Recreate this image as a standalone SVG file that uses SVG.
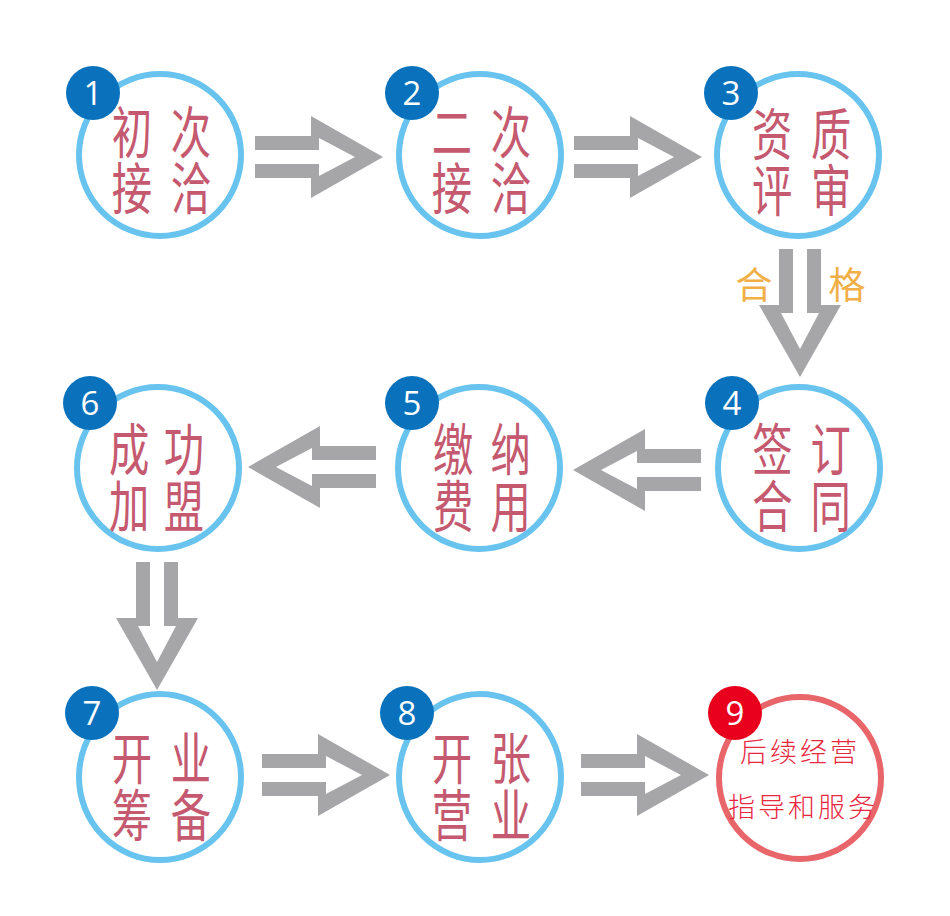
<svg xmlns="http://www.w3.org/2000/svg" width="950" height="916" viewBox="0 0 950 916">
<style>
.ring{fill:#fff;stroke:#68c3ee;stroke-width:6}
.ring9{fill:#fff;stroke:#e8656a;stroke-width:6}
.badge{fill:#0a72bd}
.badge9{fill:#e8001c}
.num{font-family:"Open Sans","Noto Sans","Liberation Sans",sans-serif;font-size:33px;fill:#fff;text-anchor:middle}
.t{font-family:"Noto Sans CJK SC","Noto Sans CJK TC",sans-serif;font-size:56px;fill:#c4596f;text-anchor:middle;dominant-baseline:central}
.t9{font-family:"Noto Sans CJK SC","Noto Sans CJK TC",sans-serif;font-size:27px;font-weight:300;fill:#e8283f;text-anchor:middle;dominant-baseline:central;letter-spacing:3px}
.lbl{font-family:"Noto Sans CJK SC","Noto Sans CJK TC",sans-serif;font-size:37px;fill:#f1af48;text-anchor:middle;dominant-baseline:central}
.arr{fill:#a6a6a8}
</style>
<defs>
<path id="arrow" d="M0,0 L-72,-41 L-72,-21 L-128,-21 L-128,-7 L-64,-7 L-64,-19 L-28,0 L-64,19 L-64,7 L-128,7 L-128,21 L-72,21 L-72,41 Z"/>
</defs>
<rect width="950" height="916" fill="#fff"/>

<g id="connectors">
<use href="#arrow" class="arr" transform="translate(383,157)"/>
<use href="#arrow" class="arr" transform="translate(702,157)"/>
<use href="#arrow" class="arr" transform="translate(800,377) rotate(90)"/>
<use href="#arrow" class="arr" transform="translate(573,470) rotate(180)"/>
<use href="#arrow" class="arr" transform="translate(248,467) rotate(180)"/>
<use href="#arrow" class="arr" transform="translate(157,690) rotate(90)"/>
<use href="#arrow" class="arr" transform="translate(390,775)"/>
<use href="#arrow" class="arr" transform="translate(709,775)"/>
<text class="lbl" x="754" y="283">合</text>
<text class="lbl" x="847" y="283">格</text>
</g>

<g id="node1">
<circle class="ring" cx="160" cy="155" r="81"/>
<text class="t" transform="translate(160,155) scale(0.72,1)"><tspan x="-39" y="-27">初</tspan><tspan x="43" y="-27">次</tspan><tspan x="-39" y="29">接</tspan><tspan x="43" y="29">洽</tspan></text>
<circle class="badge" cx="93" cy="93" r="27"/>
<text class="num" x="93" y="105">1</text>
</g>

<g id="node2">
<circle class="ring" cx="480" cy="155" r="81"/>
<text class="t" transform="translate(480,155) scale(0.72,1)"><tspan x="-39" y="-27">二</tspan><tspan x="43" y="-27">次</tspan><tspan x="-39" y="29">接</tspan><tspan x="43" y="29">洽</tspan></text>
<circle class="badge" cx="412" cy="93" r="27"/>
<text class="num" x="412" y="105">2</text>
</g>

<g id="node3">
<circle class="ring" cx="798" cy="155" r="81"/>
<text class="t" transform="translate(798,155) scale(0.72,1)"><tspan x="-36" y="-25">资</tspan><tspan x="46" y="-25">质</tspan><tspan x="-36" y="31">评</tspan><tspan x="46" y="31">审</tspan></text>
<circle class="badge" cx="731" cy="93" r="27"/>
<text class="num" x="731" y="105">3</text>
</g>

<g id="node4">
<circle class="ring" cx="799" cy="468" r="81"/>
<text class="t" transform="translate(799,468) scale(0.72,1)"><tspan x="-37" y="-23">签</tspan><tspan x="44" y="-23">订</tspan><tspan x="-37" y="34">合</tspan><tspan x="44" y="34">同</tspan></text>
<circle class="badge" cx="732" cy="403" r="27"/>
<text class="num" x="732" y="415">4</text>
</g>

<g id="node5">
<circle class="ring" cx="479" cy="468" r="81"/>
<text class="t" transform="translate(479,468) scale(0.72,1)"><tspan x="-36" y="-23">缴</tspan><tspan x="44" y="-23">纳</tspan><tspan x="-36" y="34">费</tspan><tspan x="44" y="34">用</tspan></text>
<circle class="badge" cx="412" cy="403" r="27"/>
<text class="num" x="412" y="415">5</text>
</g>

<g id="node6">
<circle class="ring" cx="158" cy="468" r="81"/>
<text class="t" transform="translate(158,468) scale(0.72,1)"><tspan x="-40" y="-23">成</tspan><tspan x="36" y="-23">功</tspan><tspan x="-40" y="34">加</tspan><tspan x="36" y="34">盟</tspan></text>
<circle class="badge" cx="90" cy="403" r="27"/>
<text class="num" x="90" y="415">6</text>
</g>

<g id="node7">
<ellipse class="ring" cx="160" cy="777" rx="81" ry="83"/>
<text class="t" transform="translate(160,777) scale(0.72,1)"><tspan x="-39" y="-23">开</tspan><tspan x="43" y="-23">业</tspan><tspan x="-39" y="34">筹</tspan><tspan x="43" y="34">备</tspan></text>
<circle class="badge" cx="92" cy="713" r="27"/>
<text class="num" x="92" y="725">7</text>
</g>

<g id="node8">
<ellipse class="ring" cx="480" cy="777" rx="81" ry="83"/>
<text class="t" transform="translate(480,777) scale(0.72,1)"><tspan x="-39" y="-23">开</tspan><tspan x="43" y="-23">张</tspan><tspan x="-39" y="34">营</tspan><tspan x="43" y="34">业</tspan></text>
<circle class="badge" cx="407" cy="713" r="27"/>
<text class="num" x="407" y="725">8</text>
</g>

<g id="node9">
<circle class="ring9" cx="800" cy="778" r="81"/>
<text class="t9"><tspan x="800" y="750">后续经营</tspan><tspan x="803" y="805">指导和服务</tspan></text>
<circle class="badge9" cx="735" cy="713" r="27"/>
<text class="num" x="735" y="725">9</text>
</g>
</svg>
